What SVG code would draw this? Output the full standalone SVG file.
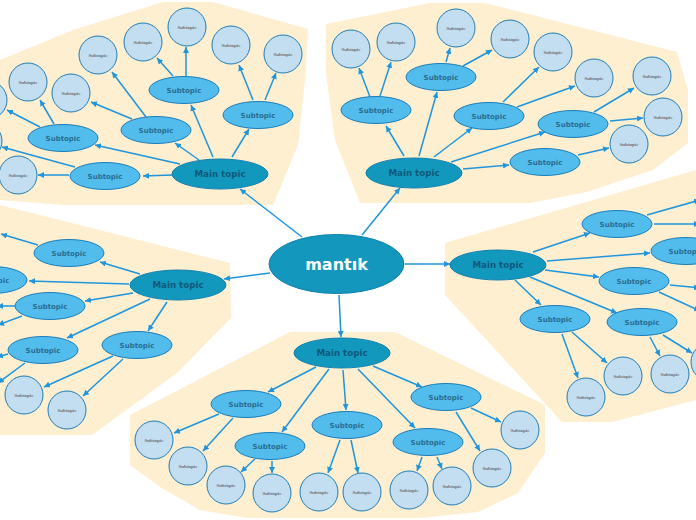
<svg xmlns="http://www.w3.org/2000/svg" width="696" height="520" viewBox="0 0 696 520">
<defs>
<marker id="ah" markerWidth="6" markerHeight="6" refX="6" refY="3" orient="auto" markerUnits="userSpaceOnUse"><path d="M0,0 L6,3 L0,6 z" fill="#1f95dc"/></marker>
<style>
.bg{fill:#fdefd0;stroke:none}
.cn line{stroke:#1f95dc;stroke-width:1.5;marker-end:url(#ah)}
.ctr ellipse{fill:#1497bd;stroke:#0f7fae;stroke-width:1}
.ctr text{fill:#ffffff;font-family:"DejaVu Sans",sans-serif;font-weight:bold;font-size:16px;text-anchor:middle}
.mt ellipse{fill:#1298bd;stroke:#0f7fae;stroke-width:1}
.mt text{fill:#0f5a7a;font-family:"DejaVu Sans",sans-serif;font-weight:bold;font-size:8.7px;text-anchor:middle}
.st ellipse{fill:#52bcec;stroke:#1b7db9;stroke-width:1}
.st text{fill:#2a6c8f;font-family:"DejaVu Sans",sans-serif;font-weight:bold;font-size:7px;text-anchor:middle}
.lf circle{fill:#c4def1;stroke:#1d7cb6;stroke-width:1}
.lf text{fill:#707070;font-family:"Liberation Serif",serif;font-weight:bold;font-size:5px;text-anchor:middle}
</style>
</defs>
<g id="backgrounds">
<polygon class="bg" points="0,60 73,30 163,2 213,2 308,29 305,80 298,145 273,205 63,205 0,200"/>
<polygon class="bg" points="326,24 430,3 485,3 677,52 688,90 688,143 653,170 587,192 530,203 360,203 335,140 326,73"/>
<polygon class="bg" points="0,205 230,263 231,318 177,373 92,435 0,435"/>
<polygon class="bg" points="445,243 696,170 696,400 612,422 562,422 445,295"/>
<polygon class="bg" points="290,332 395,332 545,405 545,453 518,493 478,512 420,518 247,518 200,510 160,487 130,465 130,415"/>
</g>
<g id="connectors" class="cn">
<line x1="302" y1="237" x2="240" y2="189"/>
<line x1="362" y1="235" x2="400" y2="188"/>
<line x1="270" y1="273" x2="224" y2="279"/>
<line x1="405" y1="264" x2="450" y2="264"/>
<line x1="339" y1="295" x2="341" y2="337"/>
<line x1="213" y1="157" x2="191" y2="105"/>
<line x1="232" y1="157" x2="249" y2="129"/>
<line x1="199" y1="160" x2="175" y2="143"/>
<line x1="180" y1="164" x2="95" y2="145"/>
<line x1="172" y1="175" x2="143" y2="176"/>
<line x1="186" y1="76" x2="186" y2="47"/>
<line x1="173" y1="76" x2="157" y2="58"/>
<line x1="253" y1="100" x2="239" y2="65"/>
<line x1="265" y1="100" x2="276" y2="73"/>
<line x1="146" y1="117" x2="112" y2="72"/>
<line x1="132" y1="119" x2="91" y2="102"/>
<line x1="54" y1="124" x2="40" y2="100"/>
<line x1="40" y1="127" x2="7" y2="110"/>
<line x1="75" y1="167" x2="2" y2="147"/>
<line x1="69" y1="175" x2="38" y2="175"/>
<line x1="404" y1="156" x2="386" y2="126"/>
<line x1="419" y1="156" x2="437" y2="92"/>
<line x1="434" y1="157" x2="472" y2="128"/>
<line x1="451" y1="162" x2="545" y2="132"/>
<line x1="463" y1="169" x2="509" y2="165"/>
<line x1="370" y1="97" x2="359" y2="68"/>
<line x1="380" y1="96" x2="391" y2="62"/>
<line x1="446" y1="62" x2="450" y2="48"/>
<line x1="463" y1="66" x2="492" y2="50"/>
<line x1="503" y1="102" x2="539" y2="67"/>
<line x1="517" y1="107" x2="575" y2="86"/>
<line x1="594" y1="112" x2="634" y2="88"/>
<line x1="610" y1="121" x2="643" y2="118"/>
<line x1="578" y1="155" x2="609" y2="148"/>
<line x1="140" y1="274" x2="100" y2="262"/>
<line x1="129" y1="284" x2="29" y2="281"/>
<line x1="133" y1="293" x2="85" y2="301"/>
<line x1="150" y1="299" x2="67" y2="338"/>
<line x1="167" y1="302" x2="148" y2="331"/>
<line x1="113" y1="356" x2="44" y2="387"/>
<line x1="123" y1="359" x2="83" y2="396"/>
<line x1="38" y1="245" x2="1" y2="234"/>
<line x1="15" y1="306" x2="-3" y2="306"/>
<line x1="22" y1="316" x2="-2" y2="325"/>
<line x1="8" y1="354" x2="-3" y2="357"/>
<line x1="25" y1="363" x2="-2" y2="383"/>
<line x1="533" y1="252" x2="590" y2="233"/>
<line x1="547" y1="261" x2="650" y2="253"/>
<line x1="545" y1="270" x2="599" y2="277"/>
<line x1="515" y1="280" x2="541" y2="305"/>
<line x1="530" y1="277" x2="617" y2="313"/>
<line x1="647" y1="215" x2="700" y2="200"/>
<line x1="654" y1="224" x2="700" y2="224"/>
<line x1="670" y1="285" x2="700" y2="288"/>
<line x1="659" y1="292" x2="700" y2="311"/>
<line x1="562" y1="334" x2="578" y2="378"/>
<line x1="572" y1="332" x2="607" y2="363"/>
<line x1="650" y1="337" x2="660" y2="356"/>
<line x1="663" y1="335" x2="692" y2="353"/>
<line x1="316" y1="367" x2="268" y2="392"/>
<line x1="329" y1="369" x2="282" y2="432"/>
<line x1="343" y1="370" x2="346" y2="410"/>
<line x1="358" y1="369" x2="415" y2="428"/>
<line x1="373" y1="366" x2="422" y2="387"/>
<line x1="219" y1="414" x2="174" y2="433"/>
<line x1="233" y1="418" x2="203" y2="451"/>
<line x1="255" y1="459" x2="241" y2="472"/>
<line x1="272" y1="461" x2="272" y2="473"/>
<line x1="340" y1="440" x2="328" y2="473"/>
<line x1="351" y1="440" x2="358" y2="473"/>
<line x1="422" y1="457" x2="417" y2="471"/>
<line x1="437" y1="457" x2="442" y2="469"/>
<line x1="471" y1="408" x2="501" y2="422"/>
<line x1="456" y1="412" x2="480" y2="451"/>
</g>
<g id="nodes">
<g id="center" class="ctr"><ellipse cx="336.5" cy="264" rx="67.5" ry="29.5"/><text x="336.5" y="270">mantık</text></g>
<g id="main-tl" class="mt"><ellipse cx="220" cy="174" rx="48" ry="15"/><text x="220" y="177">Main topic</text></g>
<g id="main-tr" class="mt"><ellipse cx="414" cy="173" rx="48" ry="15"/><text x="414" y="176">Main topic</text></g>
<g id="main-l" class="mt"><ellipse cx="178" cy="285" rx="48" ry="15"/><text x="178" y="288">Main topic</text></g>
<g id="main-r" class="mt"><ellipse cx="498" cy="265" rx="48" ry="15"/><text x="498" y="268">Main topic</text></g>
<g id="main-b" class="mt"><ellipse cx="342" cy="353" rx="48" ry="15"/><text x="342" y="356">Main topic</text></g>
<g id="st-tl1" class="st"><ellipse cx="184" cy="90" rx="35" ry="13.5"/><text x="184" y="92.5">Subtopic</text></g>
<g id="st-tl2" class="st"><ellipse cx="258" cy="115" rx="35" ry="13.5"/><text x="258" y="117.5">Subtopic</text></g>
<g id="st-tl3" class="st"><ellipse cx="156" cy="130" rx="35" ry="13.5"/><text x="156" y="132.5">Subtopic</text></g>
<g id="st-tl4" class="st"><ellipse cx="63" cy="138" rx="35" ry="13.5"/><text x="63" y="140.5">Subtopic</text></g>
<g id="st-tl5" class="st"><ellipse cx="105" cy="176" rx="35" ry="13.5"/><text x="105" y="178.5">Subtopic</text></g>
<g id="st-tr1" class="st"><ellipse cx="376" cy="110" rx="35" ry="13.5"/><text x="376" y="112.5">Subtopic</text></g>
<g id="st-tr2" class="st"><ellipse cx="441" cy="77" rx="35" ry="13.5"/><text x="441" y="79.5">Subtopic</text></g>
<g id="st-tr3" class="st"><ellipse cx="489" cy="116" rx="35" ry="13.5"/><text x="489" y="118.5">Subtopic</text></g>
<g id="st-tr4" class="st"><ellipse cx="573" cy="124" rx="35" ry="13.5"/><text x="573" y="126.5">Subtopic</text></g>
<g id="st-tr5" class="st"><ellipse cx="545" cy="162" rx="35" ry="13.5"/><text x="545" y="164.5">Subtopic</text></g>
<g id="st-l1" class="st"><ellipse cx="69" cy="253" rx="35" ry="13.5"/><text x="69" y="255.5">Subtopic</text></g>
<g id="st-l2" class="st"><ellipse cx="-8" cy="280" rx="35" ry="13.5"/><text x="-8" y="282.5">Subtopic</text></g>
<g id="st-l3" class="st"><ellipse cx="50" cy="306" rx="35" ry="13.5"/><text x="50" y="308.5">Subtopic</text></g>
<g id="st-l4" class="st"><ellipse cx="43" cy="350" rx="35" ry="13.5"/><text x="43" y="352.5">Subtopic</text></g>
<g id="st-l5" class="st"><ellipse cx="137" cy="345" rx="35" ry="13.5"/><text x="137" y="347.5">Subtopic</text></g>
<g id="st-r1" class="st"><ellipse cx="617" cy="224" rx="35" ry="13.5"/><text x="617" y="226.5">Subtopic</text></g>
<g id="st-r2" class="st"><ellipse cx="686" cy="251" rx="35" ry="13.5"/><text x="686" y="253.5">Subtopic</text></g>
<g id="st-r3" class="st"><ellipse cx="634" cy="281" rx="35" ry="13.5"/><text x="634" y="283.5">Subtopic</text></g>
<g id="st-r4" class="st"><ellipse cx="555" cy="319" rx="35" ry="13.5"/><text x="555" y="321.5">Subtopic</text></g>
<g id="st-r5" class="st"><ellipse cx="642" cy="322" rx="35" ry="13.5"/><text x="642" y="324.5">Subtopic</text></g>
<g id="st-b1" class="st"><ellipse cx="246" cy="404" rx="35" ry="13.5"/><text x="246" y="406.5">Subtopic</text></g>
<g id="st-b2" class="st"><ellipse cx="270" cy="446" rx="35" ry="13.5"/><text x="270" y="448.5">Subtopic</text></g>
<g id="st-b3" class="st"><ellipse cx="347" cy="425" rx="35" ry="13.5"/><text x="347" y="427.5">Subtopic</text></g>
<g id="st-b4" class="st"><ellipse cx="428" cy="442" rx="35" ry="13.5"/><text x="428" y="444.5">Subtopic</text></g>
<g id="st-b5" class="st"><ellipse cx="446" cy="397" rx="35" ry="13.5"/><text x="446" y="399.5">Subtopic</text></g>
<g id="lf-tl1" class="lf"><circle cx="187" cy="27" r="19"/><text x="187" y="28.5">Subtopic</text></g>
<g id="lf-tl2" class="lf"><circle cx="143" cy="42" r="19"/><text x="143" y="43.5">Subtopic</text></g>
<g id="lf-tl3" class="lf"><circle cx="98" cy="55" r="19"/><text x="98" y="56.5">Subtopic</text></g>
<g id="lf-tl4" class="lf"><circle cx="231" cy="45" r="19"/><text x="231" y="46.5">Subtopic</text></g>
<g id="lf-tl5" class="lf"><circle cx="283" cy="54" r="19"/><text x="283" y="55.5">Subtopic</text></g>
<g id="lf-tl6" class="lf"><circle cx="28" cy="82" r="19"/><text x="28" y="83.5">Subtopic</text></g>
<g id="lf-tl7" class="lf"><circle cx="71" cy="93" r="19"/><text x="71" y="94.5">Subtopic</text></g>
<g id="lf-tl8" class="lf"><circle cx="-12" cy="100" r="19"/><text x="-12" y="101.5">Subtopic</text></g>
<g id="lf-tl9" class="lf"><circle cx="-17" cy="141" r="19"/><text x="-17" y="142.5">Subtopic</text></g>
<g id="lf-tl10" class="lf"><circle cx="18" cy="175" r="19"/><text x="18" y="176.5">Subtopic</text></g>
<g id="lf-tr1" class="lf"><circle cx="351" cy="49" r="19"/><text x="351" y="50.5">Subtopic</text></g>
<g id="lf-tr2" class="lf"><circle cx="396" cy="42" r="19"/><text x="396" y="43.5">Subtopic</text></g>
<g id="lf-tr3" class="lf"><circle cx="456" cy="28" r="19"/><text x="456" y="29.5">Subtopic</text></g>
<g id="lf-tr4" class="lf"><circle cx="510" cy="39" r="19"/><text x="510" y="40.5">Subtopic</text></g>
<g id="lf-tr5" class="lf"><circle cx="553" cy="52" r="19"/><text x="553" y="53.5">Subtopic</text></g>
<g id="lf-tr6" class="lf"><circle cx="594" cy="78" r="19"/><text x="594" y="79.5">Subtopic</text></g>
<g id="lf-tr7" class="lf"><circle cx="652" cy="76" r="19"/><text x="652" y="77.5">Subtopic</text></g>
<g id="lf-tr8" class="lf"><circle cx="663" cy="117" r="19"/><text x="663" y="118.5">Subtopic</text></g>
<g id="lf-tr9" class="lf"><circle cx="629" cy="144" r="19"/><text x="629" y="145.5">Subtopic</text></g>
<g id="lf-l1" class="lf"><circle cx="24" cy="395" r="19"/><text x="24" y="396.5">Subtopic</text></g>
<g id="lf-l2" class="lf"><circle cx="67" cy="410" r="19"/><text x="67" y="411.5">Subtopic</text></g>
<g id="lf-r1" class="lf"><circle cx="586" cy="397" r="19"/><text x="586" y="398.5">Subtopic</text></g>
<g id="lf-r2" class="lf"><circle cx="623" cy="376" r="19"/><text x="623" y="377.5">Subtopic</text></g>
<g id="lf-r3" class="lf"><circle cx="670" cy="374" r="19"/><text x="670" y="375.5">Subtopic</text></g>
<g id="lf-r4" class="lf"><circle cx="710" cy="362" r="19"/><text x="710" y="363.5">Subtopic</text></g>
<g id="lf-b1" class="lf"><circle cx="154" cy="440" r="19"/><text x="154" y="441.5">Subtopic</text></g>
<g id="lf-b2" class="lf"><circle cx="188" cy="466" r="19"/><text x="188" y="467.5">Subtopic</text></g>
<g id="lf-b3" class="lf"><circle cx="226" cy="485" r="19"/><text x="226" y="486.5">Subtopic</text></g>
<g id="lf-b4" class="lf"><circle cx="272" cy="493" r="19"/><text x="272" y="494.5">Subtopic</text></g>
<g id="lf-b5" class="lf"><circle cx="319" cy="492" r="19"/><text x="319" y="493.5">Subtopic</text></g>
<g id="lf-b6" class="lf"><circle cx="362" cy="492" r="19"/><text x="362" y="493.5">Subtopic</text></g>
<g id="lf-b7" class="lf"><circle cx="409" cy="490" r="19"/><text x="409" y="491.5">Subtopic</text></g>
<g id="lf-b8" class="lf"><circle cx="452" cy="486" r="19"/><text x="452" y="487.5">Subtopic</text></g>
<g id="lf-b9" class="lf"><circle cx="492" cy="468" r="19"/><text x="492" y="469.5">Subtopic</text></g>
<g id="lf-b10" class="lf"><circle cx="520" cy="430" r="19"/><text x="520" y="431.5">Subtopic</text></g>
</g>
</svg>
